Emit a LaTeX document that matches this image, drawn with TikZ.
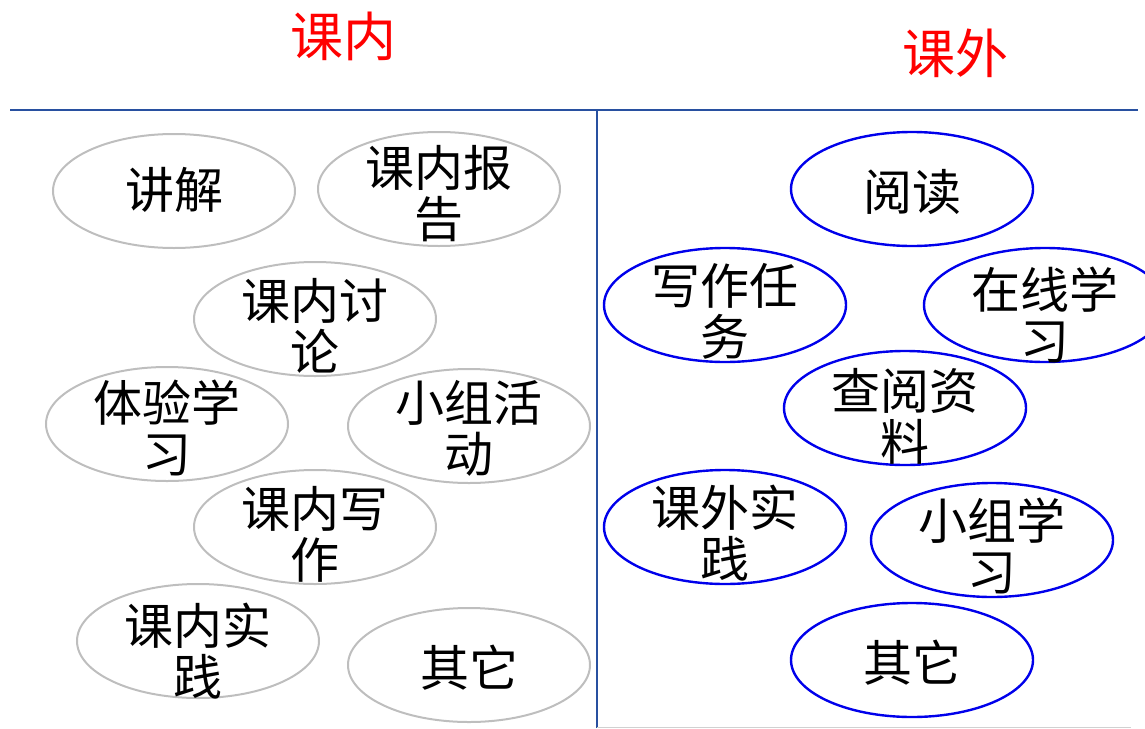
\documentclass[tikz,border=0pt]{standalone}
\usepackage{fontspec}
\newfontfamily\cjk{Noto Sans CJK SC}
\usetikzlibrary{shapes.geometric}
\definecolor{rulecol}{RGB}{40,80,160}
\definecolor{ellgray}{RGB}{190,190,190}
\definecolor{ellblue}{RGB}{0,0,235}
\begin{document}
\begin{tikzpicture}[x=1pt,y=-1pt,
  ellbase/.style={ellipse,minimum width=242pt,minimum height=114pt,inner sep=0pt},
  inell/.style={ellbase,draw=ellgray,line width=2pt},
  outell/.style={ellbase,draw=ellblue,line width=2.4pt},
  txt/.style={font=\cjk\fontsize{49}{51}\selectfont,align=center,inner sep=0pt},
  title/.style={font=\cjk\fontsize{53}{56}\selectfont,text=red,inner sep=0pt},
  rule/.style={draw=rulecol,line width=1.2pt}]
\useasboundingbox (0,0) rectangle (1145,728);
% titles
\node[title] (t1) at (343,36) {课内};
\node[title] (t2) at (955,53) {课外};
% rules
\coordinate (hl) at (10,110);
\coordinate (hr) at (1138,110);
\coordinate (vt) at (597,110);
\coordinate (vb) at (597,728);
\coordinate (bl) at (597,727);
\coordinate (br) at (1131,727);
\draw[rule] (hl) -- (hr);
\draw[rule] (vt) -- (vb);
\draw[draw=ellgray!70,line width=1pt] (bl) -- (br);
% left ellipses
\node[inell] (a1) at (174,191) {};
\node[inell] (a2) at (439,189) {};
\node[inell] (a3) at (315,319) {};
\node[inell] (a4) at (167,424) {};
\node[inell] (a5) at (469,426) {};
\node[inell] (a6) at (315,527) {};
\node[inell] (a7) at (198,641) {};
\node[inell] (a8) at (469,665) {};
\node[txt] (ta1) at (174,190) {讲解};
\node[txt] (ta2) at (439,194) {课内报\\告};
\node[txt] (ta3) at (315,326) {课内讨\\论};
\node[txt] (ta4) at (167,428) {体验学\\习};
\node[txt] (ta5) at (469,428) {小组活\\动};
\node[txt] (ta6) at (315,534) {课内写\\作};
\node[txt] (ta7) at (198,651) {课内实\\践};
\node[txt] (ta8) at (469,668) {其它};
% right ellipses
\node[outell] (b1) at (912,189) {};
\node[outell] (b2) at (725,305) {};
\node[outell] (b3) at (1045,305) {};
\node[outell] (b4) at (905,408) {};
\node[outell] (b5) at (725,527) {};
\node[outell] (b6) at (992,540) {};
\node[outell] (b7) at (912,660) {};
\node[txt] (tb1) at (912,192) {阅读};
\node[txt] (tb2) at (725,311) {写作任\\务};
\node[txt] (tb3) at (1045,315) {在线学\\习};
\node[txt] (tb4) at (905,416) {查阅资\\料};
\node[txt] (tb5) at (725,533) {课外实\\践};
\node[txt] (tb6) at (992,546) {小组学\\习};
\node[txt] (tb7) at (912,663) {其它};
\end{tikzpicture}
\end{document}
